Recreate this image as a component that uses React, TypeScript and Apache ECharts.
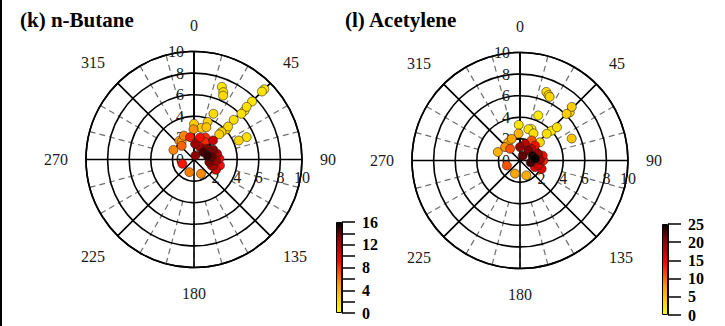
import React, { useEffect, useRef } from 'react';
import * as echarts from 'echarts';

// ---- data ----
const titles = ['(k) n-Butane', '(l) Acetylene'];
const speedMax = 10;
const speedInterval = 2;
const angleMajor = 45;
const angleMinor = 15;

// n-Butane: wind speed (radius), wind direction (deg), concentration
const butaneSpeed = [9.2, 8.9, 7.6, 6.9, 6.5, 6.1, 5.2, 4.4, 4.1, 3.6, 3.3, 7.2, 6.8, 6.5, 4.6, 5.3, 4.5, 3.7, 3.2, 3.3, 3.0, 1.6,
  2.8, 2.4, 2.0, 2.1, 2.2, 1.7, 1.25, 1.47, 1.15, 2.1, 2.1, 1.9, 2.3, 1.45, 1.54, 1.63, 2.0, 2.2, 1.65, 2.04, 2.35, 1.44, 1.87, 2.25, 1.1, 1.27, 2.47, 1.73, 0.4, 2.5, 1.3];
const butaneDir = [45, 45, 45, 45, 46, 46, 45, 46, 47, 45, 45, 21, 23.5, 24.5, 23, 67, 67, 20, 21, 0, 13, 33,
  359, 337, 325, 295, 322, 318, 200, 154, 250, 350, 15, 32, 27, 4, 50, 65, 63, 76, 82, 93, 88, 100, 107, 115, 52, 26, 103, 109, 20, 45, 75];
const butaneConc = [1.0, 1.4, 1.2, 1.6, 1.1, 1.5, 1.7, 2.0, 1.8, 2.2, 2.4, 1.2, 1.5, 1.9, 1.8, 1.6, 2.1, 2.3, 2.9, 2.6, 2.7, 3.0,
  5.2, 5.6, 5.0, 5.5, 4.8, 6.5, 5.8, 5.4, 8.8, 8.5, 9.0, 8.2, 8.0, 12.5, 13, 12, 13.5, 12, 14, 12.5, 9.5, 13.5, 12, 10.5, 14.5, 12, 9, 9.8, 13, 11, 15];
const butaneScale = [0, 16, 2, 4]; // min, max, tick step, label step

// Acetylene
const acetSpeed = [6.8, 6.6, 6.5, 4.5, 6.9, 6.4, 6.1, 4.6, 4.0, 3.5, 2.5, 5.2, 3.1, 2.8, 3.0, 3.3, 2.5, 2.15, 2.0, 2.2, 1.86,
  1.42, 1.3, 1.3, 1.5, 1.25, 1.6, 2.15, 1.96, 1.4, 1.24, 1.8, 2.16, 1.76, 2.15, 1.2, 1.5, 1.85, 1.52, 2.15, 0.5, 1.0];
const acetDir = [21, 23.5, 25, 22, 44, 46, 45, 48, 46.6, 45, 47.5, 67, 20, 26.5, 15, 358, 357, 339, 327, 291, 312,
  320, 249, 201, 157, 0, 17, 30, 45, 83, 70, 70, 90, 105, 111, 40, 45, 88, 114, 78, 30, 100];
const acetConc = [2.5, 3, 3.5, 1.5, 4, 3.5, 4, 2.5, 2, 2.5, 3, 4.5, 1.5, 2.5, 2, 2, 6, 7, 6.5, 6, 8,
  11, 11, 7, 6.5, 20, 18, 11, 14, 25, 24, 19, 13, 17, 16, 21, 18, 20, 15, 14, 22, 23];
const acetScale = [0, 25, 5, 5];

// colour scale stops (position, colour) from low to high
const STOPS: [number, string][] = [[0, '#ffff00'], [0.3, '#ffa000'], [0.58, '#ff0000'], [0.84, '#800000'], [1, '#000000']];
const FONT = '"Liberation Serif", "Times New Roman", serif';

function hex(c: string) { return [1, 3, 5].map((i) => parseInt(c.slice(i, i + 2), 16)); }
function sample(t: number) {
  for (let i = 1; i < STOPS.length; i++) {
    if (t <= STOPS[i][0]) {
      const [p0, c0] = STOPS[i - 1];
      const [p1, c1] = STOPS[i];
      const f = (t - p0) / (p1 - p0);
      const a = hex(c0), b = hex(c1);
      return 'rgb(' + a.map((v, j) => Math.round(v + (b[j] - v) * f)).join(',') + ')';
    }
  }
  return STOPS[STOPS.length - 1][1];
}
const RAMP = Array.from({ length: 41 }, (_, i) => sample(i / 40));

function buildData(s: number[], d: number[], c: number[]) {
  const rows = s.map((v, i) => [v, d[i], c[i]]);
  rows.sort((a, b) => a[2] - b[2]);
  return rows;
}

export default function App() {
  const ref = useRef<HTMLDivElement>(null);
  useEffect(() => {
    if (!ref.current) return;
    const chart = echarts.init(ref.current, undefined, { renderer: 'svg' });
    const centers = [[194, 159.5], [520, 160.5]];
    const R = 108;
    const innerR = R * 4 / speedMax;

    const polar: any[] = [];
    const angleAxis: any[] = [];
    const radiusAxis: any[] = [];
    centers.forEach((c, k) => {
      const b = k * 3;
      polar.push({ center: c, radius: R });
      polar.push({ center: c, radius: [innerR, R] });
      polar.push({ center: c, radius: R });
      angleAxis.push({
        polarIndex: b, type: 'value', min: 0, max: 360, interval: angleMajor, startAngle: 90, clockwise: true, z: 3,
        axisLine: { show: true, lineStyle: { color: '#000', width: 1.6 } },
        axisTick: { show: false },
        axisLabel: { show: true, margin: 18, fontSize: 16, fontFamily: FONT, color: '#1a1a1a' },
        splitLine: { show: true, lineStyle: { color: '#000', width: 1.6 } },
      });
      angleAxis.push({
        polarIndex: b + 1, type: 'value', min: 0, max: 360, interval: angleMinor, startAngle: 90, clockwise: true, z: 1,
        axisLine: { show: false }, axisTick: { show: false }, axisLabel: { show: false },
        splitLine: { show: true, lineStyle: { color: '#6e6e6e', width: 1.2, type: [6, 4] } },
      });
      angleAxis.push({ polarIndex: b + 2, type: 'value', min: 0, max: 360, startAngle: 0, show: false });
      radiusAxis.push({
        polarIndex: b, type: 'value', min: 0, max: speedMax, interval: speedInterval, z: 3,
        axisLine: { show: true, lineStyle: { color: '#000', width: 1.6 } },
        axisTick: { show: true, length: 6, lineStyle: { color: '#000', width: 1 } },
        axisLabel: { margin: 10, fontSize: 16, fontFamily: FONT, color: '#1a1a1a' },
        splitLine: { show: true, lineStyle: { color: '#000', width: 1.6 } },
      });
      radiusAxis.push({ polarIndex: b + 1, type: 'value', min: 4, max: speedMax, show: false });
      radiusAxis.push({
        polarIndex: b + 2, type: 'value', min: 0, max: speedMax, interval: speedInterval, z: 3,
        axisLine: { show: false }, axisTick: { show: false }, splitLine: { show: false },
        axisLabel: { margin: -26, fontSize: 16, fontFamily: FONT, color: '#1a1a1a', formatter: (v: number) => (v === 0 ? '' : String(v)) },
      });
    });

    const scales = [butaneScale, acetScale];
    const barLefts = [336, 662];
    const barTops = [222, 224];
    const grad = () => new echarts.graphic.LinearGradient(0, 0, 0, 1,
      STOPS.map(([p, col]) => ({ offset: 1 - p, color: col })).reverse());

    chart.setOption({
      animation: false,
      backgroundColor: '#fff',
      title: titles.map((t, i) => ({
        text: t, left: i === 0 ? 20 : 345, top: 9, padding: 0,
        textStyle: { fontFamily: FONT, fontWeight: 'bold', fontSize: 21, color: '#000' },
      })),
      polar, angleAxis, radiusAxis,
      grid: scales.map((s, i) => ({ left: barLefts[i], top: barTops[i], width: 6, height: 91 })),
      xAxis: scales.map((s, i) => ({ gridIndex: i, type: 'category', data: ['c'], show: false })),
      yAxis: scales.map((s, i) => ({
        gridIndex: i, type: 'value', min: s[0], max: s[1], interval: s[2], position: 'right',
        axisLine: { show: true, lineStyle: { color: '#000', width: 1 } },
        axisTick: { show: true, length: 13, lineStyle: { color: '#000', width: 1.5 } },
        axisLabel: { margin: 20, fontSize: 16, fontWeight: 'bold', fontFamily: FONT, color: '#000',
          formatter: (v: number) => (v % s[3] === 0 ? String(v) : '') },
        splitLine: { show: false },
      })),
      visualMap: scales.map((s, i) => ({
        type: 'continuous', show: false, seriesIndex: i, dimension: 2, min: s[0], max: s[1], inRange: { color: RAMP },
      })),
      graphic: [{ type: 'rect', shape: { x: 0, y: 0, width: 2, height: 326 }, style: { fill: '#000' } }],
      series: [
        { type: 'scatter', coordinateSystem: 'polar', polarIndex: 0, data: buildData(butaneSpeed, butaneDir, butaneConc),
          symbolSize: 9, itemStyle: { borderColor: '#222', borderWidth: 0.6, opacity: 1 }, z: 5 },
        { type: 'scatter', coordinateSystem: 'polar', polarIndex: 3, data: buildData(acetSpeed, acetDir, acetConc),
          symbolSize: 9, itemStyle: { borderColor: '#222', borderWidth: 0.6, opacity: 1 }, z: 5 },
        ...scales.map((s, i) => ({
          type: 'bar', xAxisIndex: i, yAxisIndex: i, data: [s[1]], barWidth: '100%', silent: true,
          itemStyle: { color: grad(), borderColor: '#000', borderWidth: 1 },
        })),
      ],
    });
    return () => chart.dispose();
  }, []);
  return <div ref={ref} style={{ position: 'fixed', left: 0, top: 0, width: 725, height: 326, background: '#fff' }} />;
}
